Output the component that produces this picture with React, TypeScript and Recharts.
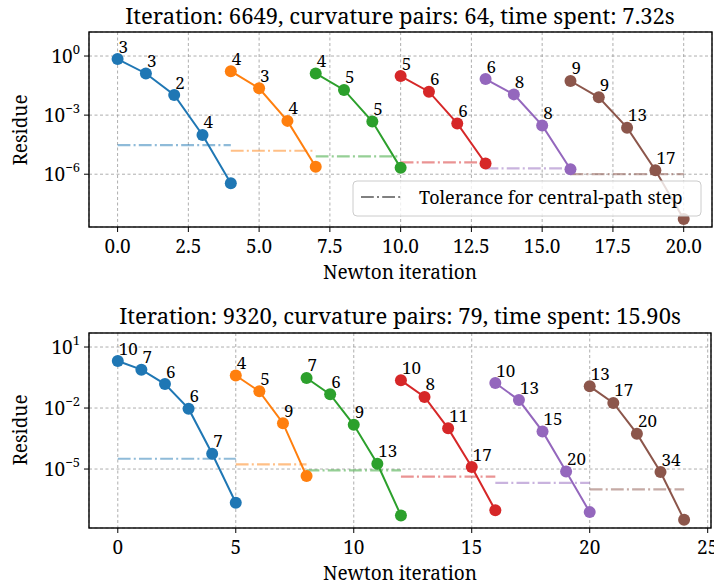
import React from "react";
import { ComposedChart, Line, XAxis, YAxis, CartesianGrid, LabelList } from "recharts";

const COLORS = ["#1f77b4", "#ff7f0e", "#2ca02c", "#d62728", "#9467bd", "#8c564b"];
const FONT = "Noto Serif";

// ---- Top panel data ----
const TOP_TITLE = "Iteration: 6649, curvature pairs: 64, time spent: 7.32s";
const TOP_STARTS = [0, 4, 7, 10, 13, 16];
const TOP_RESIDUES = [
  [0.7, 0.13, 0.0105, 9.8e-5, 3.5e-7],
  [0.17, 0.023, 5.1e-4, 2.4e-6],
  [0.13, 0.019, 4.7e-4, 2.1e-6],
  [0.096, 0.0155, 3.8e-4, 3.5e-6],
  [0.068, 0.0113, 3.0e-4, 1.8e-6],
  [0.054, 0.008, 2.3e-4, 1.6e-6, 5.3e-9],
];
const TOP_LABELS = [[3, 3, 2, 4], [4, 3, 4], [4, 5, 5], [5, 6, 6], [6, 8, 8], [9, 9, 13, 17]];
const TOP_TOL = [3e-5, 1.55e-5, 8e-6, 4e-6, 2e-6, 1e-6];
const TOP_XTICKS = [0, 2.5, 5, 7.5, 10, 12.5, 15, 17.5, 20];
const TOP_YTICKS = [1, 1e-3, 1e-6];

// ---- Bottom panel data ----
const BOT_TITLE = "Iteration: 9320, curvature pairs: 79, time spent: 15.90s";
const BOT_STARTS = [0, 5, 8, 12, 16, 20];
const BOT_RESIDUES = [
  [2.05, 0.77, 0.15, 0.0093, 5.6e-5, 2.2e-7],
  [0.4, 0.066, 1.8e-3, 4.5e-6],
  [0.3, 0.047, 1.5e-3, 1.8e-5, 5.2e-8],
  [0.23, 0.035, 1.0e-3, 1.25e-5, 9.3e-8],
  [0.17, 0.0246, 7.1e-4, 7.6e-6, 7.6e-8],
  [0.117, 0.0177, 5.5e-4, 7.1e-6, 3.2e-8],
];
const BOT_LABELS = [[10, 7, 6, 6, 7], [4, 5, 9], [7, 6, 9, 13], [10, 8, 11, 17], [10, 13, 15, 20], [13, 17, 20, 34]];
const BOT_TOL = [3.2e-5, 1.7e-5, 8.5e-6, 4.2e-6, 2.1e-6, 1e-6];
const BOT_XTICKS = [0, 5, 10, 15, 20, 25];
const BOT_YTICKS = [10, 1e-2, 1e-5];

const LEGEND_TEXT = "Tolerance for central-path step";

type PanelProps = {
  starts: number[];
  residues: number[][];
  labels: number[][];
  tol: number[];
  xDomain: [number, number];
  xTicks: number[];
  yDomain: [number, number];
  yTicks: number[];
  height: number;
  margin: { top: number; right: number; bottom: number; left: number };
  xFmt: (v: number) => string;
};

const YTick = (props: any) => {
  const { x, y, payload } = props;
  const e = Math.round(Math.log10(payload.value));
  const es = e < 0 ? "\u2212" + Math.abs(e) : String(e);
  return (
    <text x={x} y={y + 7} textAnchor="end" fontFamily={FONT} fontSize={19} fill="#000">
      10
      <tspan dy={-9} fontSize={13}>{es}</tspan>
    </text>
  );
};

const PointLabel = (props: any) => {
  const { x, y, value } = props;
  if (value === undefined || value === null || value === "") return null;
  return (
    <text x={x + 1} y={y - 6.5} fontFamily={FONT} fontSize={17} fill="#000">
      {value}
    </text>
  );
};

function Panel(p: PanelProps) {
  const xTick = (props: any) => {
    const { x, y, payload } = props;
    return (
      <text x={x} y={y + 14} textAnchor="middle" fontFamily={FONT} fontSize={19} fill="#000">
        {p.xFmt(payload.value)}
      </text>
    );
  };
  return (
    <ComposedChart width={714} height={p.height} margin={p.margin}>
      <CartesianGrid stroke="#999" strokeWidth={0.8} strokeDasharray="3 2.5" />
      <XAxis
        dataKey="x"
        type="number"
        domain={p.xDomain}
        ticks={p.xTicks}
        allowDataOverflow
        axisLine={false}
        tickLine={{ stroke: "#000", strokeWidth: 1 }}
        tickSize={5}
        tickMargin={7}
        height={30}
        tick={xTick}
        interval={0}
      />
      <YAxis
        type="number"
        scale="log"
        domain={p.yDomain}
        ticks={p.yTicks}
        allowDataOverflow
        axisLine={false}
        tickLine={{ stroke: "#000", strokeWidth: 1 }}
        tickSize={5}
        tickMargin={4}
        width={89}
        tick={<YTick />}
        interval={0}
      />
      {p.residues.map((run, i) => {
        const s = p.starts[i];
        const tolData = [
          { x: s, y: p.tol[i] },
          { x: s + run.length - 1, y: p.tol[i] },
        ];
        return (
          <Line
            key={"tol" + i}
            data={tolData}
            dataKey="y"
            stroke={COLORS[i]}
            strokeOpacity={0.5}
            strokeWidth={2.2}
            strokeDasharray="12.8 3.2 2 3.2"
            dot={false}
            activeDot={false}
            isAnimationActive={false}
          />
        );
      })}
      {p.residues.map((run, i) => {
        const s = p.starts[i];
        const data = run.map((r, j) => ({ x: s + j, y: r, label: p.labels[i][j] }));
        return (
          <Line
            key={"run" + i}
            data={data}
            dataKey="y"
            stroke={COLORS[i]}
            strokeWidth={2}
            dot={{ r: 6, fill: COLORS[i], stroke: COLORS[i], strokeWidth: 0 }}
            activeDot={false}
            isAnimationActive={false}
          >
            <LabelList dataKey="label" content={<PointLabel />} />
          </Line>
        );
      })}
    </ComposedChart>
  );
}

export default function App() {
  return (
    <div style={{ position: "absolute", left: 0, top: 0, width: 714, height: 586, background: "#fff" }}>
      <div style={{ position: "absolute", left: 0, top: 0 }}>
        <Panel
          starts={TOP_STARTS}
          residues={TOP_RESIDUES}
          labels={TOP_LABELS}
          tol={TOP_TOL}
          xDomain={[-1.01, 21.0]}
          xTicks={TOP_XTICKS}
          yDomain={[Math.pow(10, -8.68), Math.pow(10, 1.22)]}
          yTicks={TOP_YTICKS}
          height={300}
          margin={{ top: 32, right: 2, bottom: 43, left: 0 }}
          xFmt={(v) => v.toFixed(1)}
        />
      </div>
      <div style={{ position: "absolute", left: 0, top: 300 }}>
        <Panel
          starts={BOT_STARTS}
          residues={BOT_RESIDUES}
          labels={BOT_LABELS}
          tol={BOT_TOL}
          xDomain={[-1.22, 25.14]}
          xTicks={BOT_XTICKS}
          yDomain={[Math.pow(10, -7.9), Math.pow(10, 1.69)]}
          yTicks={BOT_YTICKS}
          height={286}
          margin={{ top: 33, right: 3, bottom: 28, left: 0 }}
          xFmt={(v) => String(v)}
        />
      </div>
      <svg width={714} height={586} style={{ position: "absolute", left: 0, top: 0, pointerEvents: "none" }}>
        <rect x={89} y={32} width={623} height={195} fill="none" stroke="#000" strokeWidth={1.4} />
        <rect x={89} y={333} width={622} height={195} fill="none" stroke="#000" strokeWidth={1.4} />
        <text x={400} y={24} textAnchor="middle" fontFamily={FONT} fontSize={22} fill="#000">{TOP_TITLE}</text>
        <text x={400} y={324} textAnchor="middle" fontFamily={FONT} fontSize={22} fill="#000">{BOT_TITLE}</text>
        <text x={400} y={279} textAnchor="middle" fontFamily={FONT} fontSize={19} fill="#000">Newton iteration</text>
        <text x={400} y={580} textAnchor="middle" fontFamily={FONT} fontSize={19} fill="#000">Newton iteration</text>
        <text transform="translate(27,130) rotate(-90)" textAnchor="middle" fontFamily={FONT} fontSize={19} fill="#000">Residue</text>
        <text transform="translate(27,430) rotate(-90)" textAnchor="middle" fontFamily={FONT} fontSize={19} fill="#000">Residue</text>
        <rect x={353} y={181} width={348} height={35} rx={4} fill="#fff" fillOpacity={0.8} stroke="#ccc" strokeWidth={1} />
        <line x1={361} y1={197} x2={402} y2={197} stroke="#808080" strokeWidth={2.2} strokeDasharray="12.8 3.2 2 3.2" />
        <text x={419} y={203.5} fontFamily={FONT} fontSize={18} fill="#000">{LEGEND_TEXT}</text>
      </svg>
    </div>
  );
}
